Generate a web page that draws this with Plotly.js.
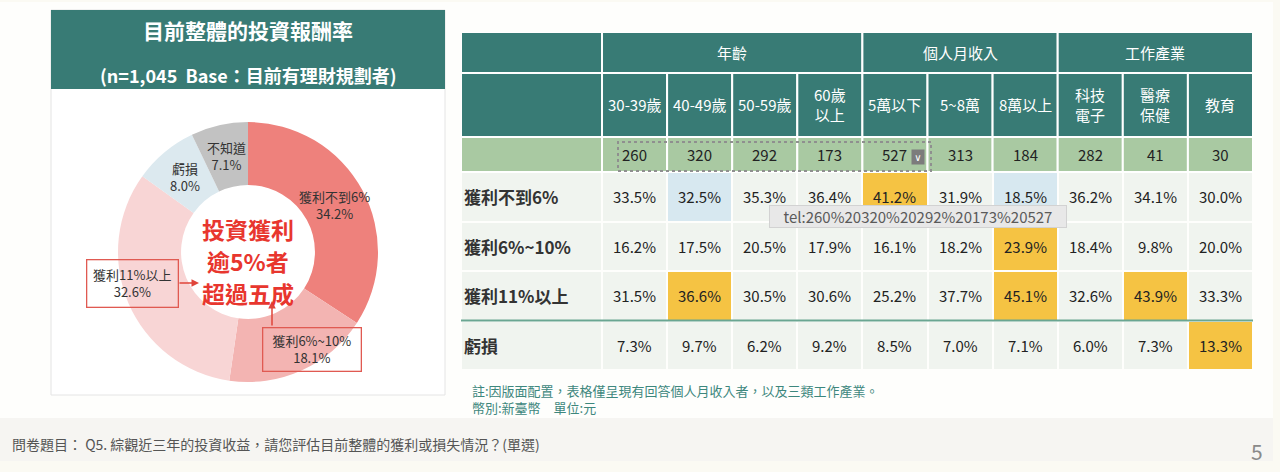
<!DOCTYPE html>
<html>
<head>
<meta charset="utf-8">
<script src="https://cdn.plot.ly/plotly-3.0.1.min.js"></script>
<style>
  html, body { margin: 0; padding: 0; background: #fbfaf3; }
  #chart { width: 1280px; height: 472px; }
</style>
</head>
<body>
<div id="chart"></div>
<script>
// ---- Overall return distribution (donut) ----
const sliceLabels = ['獲利不到6%', '獲利6%~10%', '獲利11%以上', '虧損', '不知道'];
const sliceValues = [34.2, 18.1, 32.6, 8.0, 7.1];

// ---- Cross-tab by segment ----
const groupNames = ['年齡', '個人月收入', '工作產業'];
const groupSizes = [4, 3, 3];
const columnLabels = ['30-39歲', '40-49歲', '50-59歲', '60歲<br>以上', '5萬以下', '5~8萬', '8萬以上', '科技<br>電子', '醫療<br>保健', '教育'];
const sampleSizes = [260, 320, 292, 173, 527, 313, 184, 282, 41, 30];
const rowLabels = ['獲利不到6%', '獲利6%~10%', '獲利11%以上', '虧損'];
const rowUnder6 = [33.5, 32.5, 35.3, 36.4, 41.2, 31.9, 18.5, 36.2, 34.1, 30.0];
const row6to10 = [16.2, 17.5, 20.5, 17.9, 16.1, 18.2, 23.9, 18.4, 9.8, 20.0];
const row11up = [31.5, 36.6, 30.5, 30.6, 25.2, 37.7, 45.1, 32.6, 43.9, 33.3];
const rowLoss = [7.3, 9.7, 6.2, 9.2, 8.5, 7.0, 7.1, 6.0, 7.3, 13.3];
// cell emphasis: 2 = notably high, 1 = notably low
const flagsUnder6 = [0, 1, 0, 0, 2, 0, 1, 0, 0, 0];
const flags6to10 = [0, 0, 0, 0, 0, 0, 2, 0, 0, 0];
const flags11up = [0, 2, 0, 0, 0, 0, 2, 0, 2, 0];
const flagsLoss = [0, 0, 0, 0, 0, 0, 0, 0, 0, 2];

const panelTitle = '目前整體的投資報酬率';
const panelSubtitle = '(n=1,045\u00a0\u00a0Base：目前有理財規劃者)';
const centerNoteLines = ['投資獲利', '逾5%者', '超過五成'];
const noteLines = ['註:因版面配置，表格僅呈現有回答個人月收入者，以及三類工作產業。', '幣別:新臺幣　單位:元'];
const questionText = '問卷題目： Q5. 綜觀近三年的投資收益，請您評估目前整體的獲利或損失情況？(單選)';
const pageNumber = '5';
const linkTip = 'tel:260%20320%20292%20173%20527';

// ---- styling ----
const W = 1280, H = 472;
const px = x => x / W;
const py = y => 1 - y / H;
const FONT = '"Noto Sans CJK TC", "Noto Sans", sans-serif';
const TEAL = '#387b75';
const NGREEN = '#a9c9a2';
const sliceColors = ['#ee817c', '#f3b4b2', '#f8d5d5', '#dce9ef', '#c2c2c2'];
const RED = '#e8362e';

const rows = [rowUnder6, row6to10, row11up, rowLoss];
const flags = [flagsUnder6, flags6to10, flags11up, flagsLoss];

// table geometry in axis units: data column = 1, data row = 1
const labelW = 2.166;
const xL = -0.5 - labelW;
const hN = 0.707, h2 = 1.293, h1 = 0.828;
const yN0 = -0.5 - hN, y20 = yN0 - h2, y10 = y20 - h1;
const nCols = columnLabels.length;

const shapes = [];
const annotations = [];
// every label is anchored explicitly (no 'auto' anchoring)
const note = a => annotations.push(Object.assign({showarrow: false, xanchor: 'center', yanchor: 'middle'}, a));

// page backgrounds
shapes.push({type: 'rect', xref: 'paper', yref: 'paper', x0: px(0), x1: px(1273), y0: py(418), y1: py(2), fillcolor: '#fefefc', line: {width: 0}, layer: 'below'});
shapes.push({type: 'rect', xref: 'paper', yref: 'paper', x0: px(0), x1: px(1273), y0: py(461), y1: py(418), fillcolor: '#f6f5f2', line: {width: 0}, layer: 'below'});
// donut panel
shapes.push({type: 'rect', xref: 'paper', yref: 'paper', x0: px(51), x1: px(445), y0: py(395), y1: py(10), fillcolor: '#ffffff', line: {color: '#e4e4e4', width: 1}, layer: 'below'});
shapes.push({type: 'rect', xref: 'paper', yref: 'paper', x0: px(51), x1: px(445), y0: py(89), y1: py(10), fillcolor: TEAL, line: {width: 0}, layer: 'below'});

note({xref: 'paper', yref: 'paper', x: px(248), y: py(30), text: panelTitle, font: {family: FONT, size: 21, color: '#ffffff', weight: 700}});
note({xref: 'paper', yref: 'paper', x: px(248), y: py(75), text: panelSubtitle, font: {family: FONT, size: 18, color: '#ffffff', weight: 700}});

// donut labels placed at ring middle
const cx = 248, cy = 252, rOut = 130, hole = 0.515;
const rMid = rOut * (1 + hole) / 2;
const total = sliceValues.reduce((a, b) => a + b, 0);
const boxedAt = {1: [311.5, 349, 95, 40], 2: [132, 283, 88, 44]};
let cum = 0;
sliceValues.forEach((v, i) => {
  const ang = (cum + v / 2) / total * 2 * Math.PI;
  cum += v;
  const text = sliceLabels[i] + '<br>' + v.toFixed(1) + '%';
  if (boxedAt[i]) {
    const [bx, by, bw, bh] = boxedAt[i];
    note({xref: 'paper', yref: 'paper', x: px(bx), y: py(by), text: text,
      width: bw, height: bh, bordercolor: '#e05a52', borderwidth: 1.3, borderpad: 1,
      font: {family: FONT, size: 13, color: '#333333'}});
  } else {
    note({xref: 'paper', yref: 'paper', x: px(cx + rMid * Math.sin(ang)), y: py(cy - rMid * Math.cos(ang)),
      text: text, font: {family: FONT, size: 13, color: '#333333'}});
  }
});
// arrows from the boxed labels toward the center note
note({xref: 'paper', yref: 'paper', x: px(199), y: py(283), ax: -21, ay: 0, text: '', showarrow: true,
  arrowhead: 2, arrowsize: 1, arrowwidth: 1.5, arrowcolor: '#e0443a', standoff: 0, startstandoff: 0});
note({xref: 'paper', yref: 'paper', x: px(272), y: py(301), ax: 0, ay: 26, text: '', showarrow: true,
  arrowhead: 2, arrowsize: 1, arrowwidth: 1.5, arrowcolor: '#e0443a', standoff: 0, startstandoff: 0});
centerNoteLines.forEach((t, k) => {
  note({xref: 'paper', yref: 'paper', x: px(248), y: py(229 + k * 32), text: t,
    font: {family: FONT, size: 23, color: RED, weight: 700}});
});

// ---- table header cells ----
const cell = (x0, x1, y0, y1, fill) => shapes.push({type: 'rect', xref: 'x', yref: 'y', x0, x1, y0, y1,
  fillcolor: fill, line: {color: '#ffffff', width: 2}, layer: 'above'});
cell(xL, -0.5, y10, y20, TEAL);
cell(xL, -0.5, y20, yN0, TEAL);
cell(xL, -0.5, yN0, -0.5, NGREEN);
let start = 0;
groupNames.forEach((g, k) => {
  const x0 = start - 0.5, x1 = start + groupSizes[k] - 0.5;
  cell(x0, x1, y10, y20, TEAL);
  note({xref: 'x', yref: 'y', x: (x0 + x1) / 2, y: (y10 + y20) / 2, text: g,
    font: {family: FONT, size: 15, color: '#ffffff'}});
  start += groupSizes[k];
});
columnLabels.forEach((c, j) => {
  cell(j - 0.5, j + 0.5, y20, yN0, TEAL);
  cell(j - 0.5, j + 0.5, yN0, -0.5, NGREEN);
  note({xref: 'x', yref: 'y', x: j, y: (y20 + yN0) / 2, text: c,
    font: {family: FONT, size: 15, color: '#ffffff'}});
  note({xref: 'x', yref: 'y', x: j, y: (yN0 - 0.5) / 2, text: String(sampleSizes[j]),
    font: {family: FONT, size: 15, color: '#222222'}});
});

// body text
rowLabels.forEach((r, i) => {
  note({xref: 'x', yref: 'y', x: xL, xanchor: 'left', xshift: 1, y: i, text: r,
    font: {family: FONT, size: 17, color: '#333333', weight: 700}});
  rows[i].forEach((v, j) => {
    note({xref: 'x', yref: 'y', x: j, y: i, text: v.toFixed(1) + '%',
      font: {family: FONT, size: 15, color: '#222222'}});
  });
});
// separator above the loss row
shapes.push({type: 'line', xref: 'x', yref: 'y', x0: xL, x1: nCols - 0.5, y0: 2.5, y1: 2.5,
  line: {color: '#6aa692', width: 2}, layer: 'above'});

// selection outline, dropdown badge and link tooltip over the sample-size row
shapes.push({type: 'rect', xref: 'paper', yref: 'paper', x0: px(618), x1: px(931), y0: py(171), y1: py(142),
  line: {color: '#8f8f8f', width: 2, dash: 'dot'}, fillcolor: 'rgba(0,0,0,0)', layer: 'above'});
note({xref: 'paper', yref: 'paper', x: px(918), y: py(157), text: '∨',
  bgcolor: '#7c7c7c', width: 12, height: 14, borderpad: 0, font: {family: 'DejaVu Sans', size: 10, color: '#ffffff'}});
note({xref: 'paper', yref: 'paper', x: px(918), y: py(216.5), text: linkTip,
  bgcolor: '#e8e8e8', bordercolor: '#d2d2d2', borderwidth: 1, width: 294, height: 19, borderpad: 1,
  font: {family: FONT, size: 15, color: '#5a5a5a'}});

// footnotes
noteLines.forEach((t, k) => {
  note({xref: 'paper', yref: 'paper', x: px(470), xanchor: 'left', y: py(390 + k * 17), text: t,
    font: {family: FONT, size: 13, color: '#3d877d'}});
});
note({xref: 'paper', yref: 'paper', x: px(10), xanchor: 'left', y: py(444), text: questionText,
  font: {family: FONT, size: 14, color: '#555555'}});
note({xref: 'paper', yref: 'paper', x: px(1257), y: py(451), text: pageNumber,
  font: {family: FONT, size: 21, color: '#8a8a8a'}});

// table body: heatmap with white gaps
const xEdges = [xL];
for (let j = 0; j <= nCols; j++) xEdges.push(j - 0.5);
const yEdges = [];
for (let i = 0; i <= rowLabels.length; i++) yEdges.push(i - 0.5);
const z = flags.map(f => [0].concat(f));

const data = [
  {
    type: 'heatmap', x: xEdges, y: yEdges, z: z, zmin: 0, zmax: 2,
    colorscale: [[0, '#f0f4ef'], [0.333, '#f0f4ef'], [0.333, '#d7e8f0'], [0.667, '#d7e8f0'], [0.667, '#f5c343'], [1, '#f5c343']],
    xgap: 2, ygap: 2, showscale: false, hoverinfo: 'skip'
  },
  {
    type: 'pie', values: sliceValues, labels: sliceLabels, sort: false, direction: 'clockwise', rotation: 0,
    hole: hole, textinfo: 'none', hoverinfo: 'skip', showlegend: false,
    marker: {colors: sliceColors, line: {width: 0}},
    domain: {x: [px(cx - rOut), px(cx + rOut)], y: [py(cy + rOut), py(cy - rOut)]}
  }
];

const layout = {
  width: W, height: H, margin: {l: 0, r: 0, t: 0, b: 0, pad: 0},
  paper_bgcolor: '#fbfaf3', plot_bgcolor: '#ffffff', showlegend: false,
  xaxis: {domain: [px(461), px(1253)], range: [xL, nCols - 0.5], visible: false, fixedrange: true},
  yaxis: {domain: [py(370), py(32)], range: [3.5, y10], visible: false, fixedrange: true},
  shapes: shapes, annotations: annotations
};

Plotly.newPlot('chart', data, layout, {displayModeBar: false, staticPlot: true});
</script>
</body>
</html>
